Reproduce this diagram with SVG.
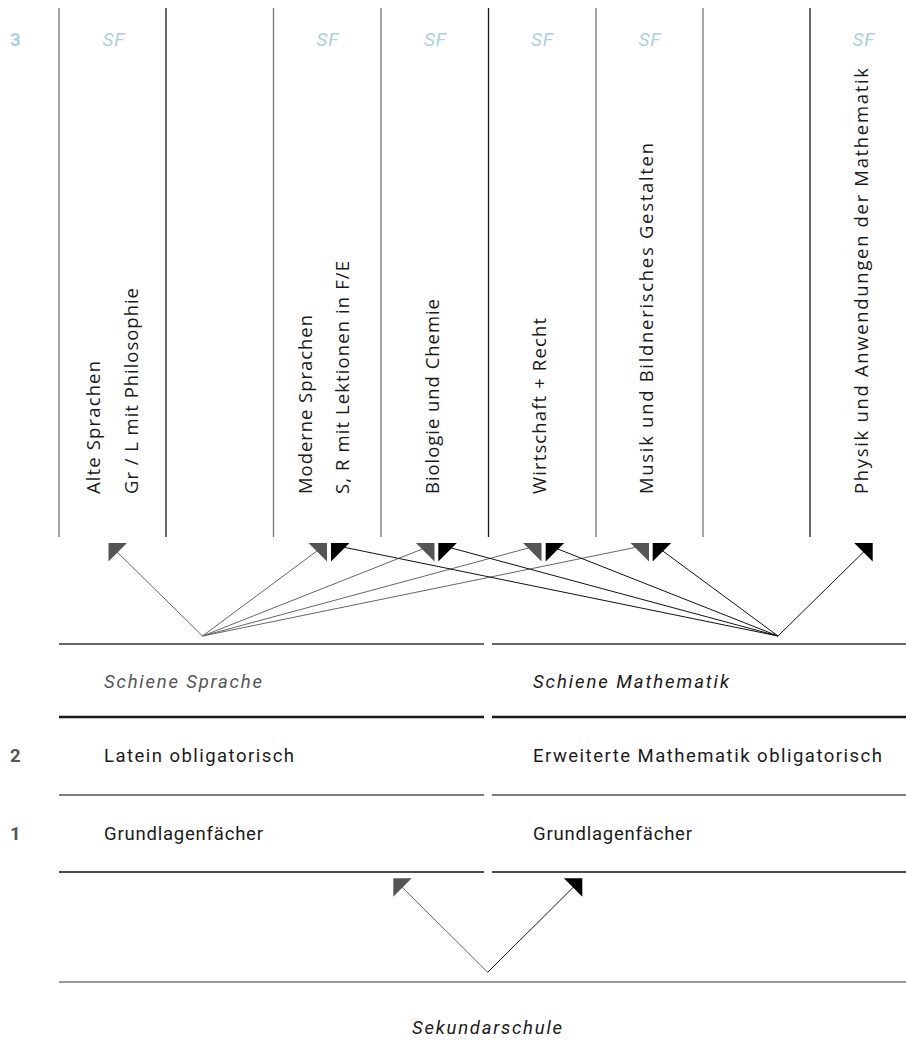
<svg xmlns="http://www.w3.org/2000/svg" width="906" height="1054" viewBox="0 0 906 1054">
<style>
.bg{fill:#ffffff}
.vg{stroke:#777777;stroke-width:1.3;fill:none}
.vb{stroke:#1a1a1a;stroke-width:1.3;fill:none}
.vt{font-family:"Open Sans","Noto Sans",sans-serif;font-size:18.5px;fill:#1a1a1a}
.ht{font-family:Roboto,"Liberation Sans",sans-serif;font-size:18.5px;fill:#1a1a1a}
.it{font-style:italic}
.gray{fill:#555555}
.sf{font-family:Roboto,"Liberation Sans",sans-serif;font-size:19px;font-style:italic;fill:#a9cfe3;text-anchor:middle;letter-spacing:1px}
.lvl{font-family:Roboto,"Liberation Sans",sans-serif;font-size:18.5px;font-weight:bold}
.cg{stroke:#666666;stroke-width:1;fill:none}
.cb{stroke:#111111;stroke-width:1;fill:none}
.hg{fill:#555555}
.hb{fill:#000000}
</style>
<rect class="bg" x="0" y="0" width="906" height="1054"/>

<g id="level3">
  <text class="lvl" x="10" y="45.5" fill="#a9cfe3">3</text>
</g>

<g id="columns">
  <line class="vg" x1="59" y1="8" x2="59" y2="537"/>
  <line class="vb" x1="166" y1="8" x2="166" y2="537"/>
  <line class="vg" x1="273.5" y1="8" x2="273.5" y2="537"/>
  <line class="vg" x1="381" y1="8" x2="381" y2="537"/>
  <line class="vb" x1="488.5" y1="8" x2="488.5" y2="537"/>
  <line class="vg" x1="596" y1="8" x2="596" y2="537"/>
  <line class="vg" x1="703" y1="8" x2="703" y2="537"/>
  <line class="vb" x1="810" y1="8" x2="810" y2="537"/>
</g>

<g id="sf-alte-sprachen">
  <text class="sf" x="114" y="45.5">SF</text>
  <text class="vt" transform="translate(100,494) rotate(-90)" textLength="133" lengthAdjust="spacing">Alte Sprachen</text>
  <text class="vt" transform="translate(138,494) rotate(-90)" textLength="206" lengthAdjust="spacing">Gr / L mit Philosophie</text>
</g>
<g id="sf-moderne-sprachen">
  <text class="sf" x="328" y="45.5">SF</text>
  <text class="vt" transform="translate(312,494) rotate(-90)" textLength="179" lengthAdjust="spacing">Moderne Sprachen</text>
  <text class="vt" transform="translate(349,494) rotate(-90)" textLength="233" lengthAdjust="spacing">S, R mit Lektionen in F/E</text>
</g>
<g id="sf-biologie-chemie">
  <text class="sf" x="435.5" y="45.5">SF</text>
  <text class="vt" transform="translate(439,494) rotate(-90)" textLength="195" lengthAdjust="spacing">Biologie und Chemie</text>
</g>
<g id="sf-wirtschaft-recht">
  <text class="sf" x="542.5" y="45.5">SF</text>
  <text class="vt" transform="translate(546,494) rotate(-90)" textLength="176" lengthAdjust="spacing">Wirtschaft + Recht</text>
</g>
<g id="sf-musik-bg">
  <text class="sf" x="650" y="45.5">SF</text>
  <text class="vt" transform="translate(653,494) rotate(-90)" textLength="351" lengthAdjust="spacing">Musik und Bildnerisches Gestalten</text>
</g>
<g id="sf-physik-am">
  <text class="sf" x="864" y="45.5">SF</text>
  <text class="vt" transform="translate(868,494) rotate(-90)" textLength="426" lengthAdjust="spacing">Physik und Anwendungen der Mathematik</text>
</g>

<g id="schiene-sprache">
  <line x1="59" y1="644" x2="484" y2="644" stroke="#333333" stroke-width="1.3"/>
  <text class="ht it gray" x="104" y="688" textLength="158" lengthAdjust="spacing">Schiene Sprache</text>
  <line x1="59" y1="717" x2="484" y2="717" stroke="#1a1a1a" stroke-width="2.6"/>
</g>
<g id="schiene-mathematik">
  <line x1="492" y1="644" x2="906" y2="644" stroke="#333333" stroke-width="1.3"/>
  <text class="ht it" x="533" y="688" textLength="196" lengthAdjust="spacing">Schiene Mathematik</text>
  <line x1="492" y1="717" x2="906" y2="717" stroke="#1a1a1a" stroke-width="2.6"/>
</g>

<g id="level2">
  <text class="lvl" x="10" y="762" fill="#555555">2</text>
  <text class="ht" x="104" y="762" textLength="190" lengthAdjust="spacing">Latein obligatorisch</text>
  <text class="ht" x="533" y="762" textLength="349" lengthAdjust="spacing">Erweiterte Mathematik obligatorisch</text>
  <line x1="59" y1="795" x2="484" y2="795" stroke="#555555" stroke-width="1.3"/>
  <line x1="492" y1="795" x2="906" y2="795" stroke="#555555" stroke-width="1.3"/>
</g>

<g id="level1">
  <text class="lvl" x="10" y="840" fill="#555555">1</text>
  <text class="ht" x="104" y="840" textLength="159" lengthAdjust="spacing">Grundlagenfächer</text>
  <text class="ht" x="533" y="840" textLength="159" lengthAdjust="spacing">Grundlagenfächer</text>
  <line x1="59" y1="872" x2="484" y2="872" stroke="#111111" stroke-width="1.5"/>
  <line x1="492" y1="872" x2="906" y2="872" stroke="#111111" stroke-width="1.5"/>
</g>

<g id="sekundarschule">
  <line x1="59" y1="982" x2="906" y2="982" stroke="#777777" stroke-width="1.3"/>
  <text class="ht it" x="412" y="1034" textLength="150" lengthAdjust="spacing">Sekundarschule</text>
</g>

<g id="connectors">
  <path class="cg" d="M202.5,636 L110,545 M202.5,636 L325,545 M202.5,636 L432.5,545 M202.5,636 L539.5,545 M202.5,636 L647,545"/>
  <path class="cb" d="M778,636 L333,545 M778,636 L440.3,545 M778,636 L547.7,545 M778,636 L654.7,545 M778,636 L870.7,545"/>
  <path class="cg" d="M487.7,972.3 L395.3,880.3"/>
  <path class="cb" d="M487.7,972.3 L580.3,880.3"/>
  <polygon class="hg" points="108.5,543 127,543 108.5,561.5"/>
  <polygon class="hg" points="308.5,543 327,543 327,561.5"/>
  <polygon class="hg" points="416,543 434.5,543 434.5,561.5"/>
  <polygon class="hg" points="523,543 541.5,543 541.5,561.5"/>
  <polygon class="hg" points="630.5,543 649,543 649,561.5"/>
  <polygon class="hb" points="331,543 349.5,543 331,561.5"/>
  <polygon class="hb" points="438.3,543 456.8,543 438.3,561.5"/>
  <polygon class="hb" points="545.7,543 564.2,543 545.7,561.5"/>
  <polygon class="hb" points="652.7,543 671.2,543 652.7,561.5"/>
  <polygon class="hb" points="854.2,543 872.7,543 872.7,561.5"/>
  <polygon class="hg" points="393.3,878.3 411.7,878.3 393.3,896.7"/>
  <polygon class="hb" points="563.9,878.3 582.3,878.3 582.3,896.7"/>
</g>
</svg>
